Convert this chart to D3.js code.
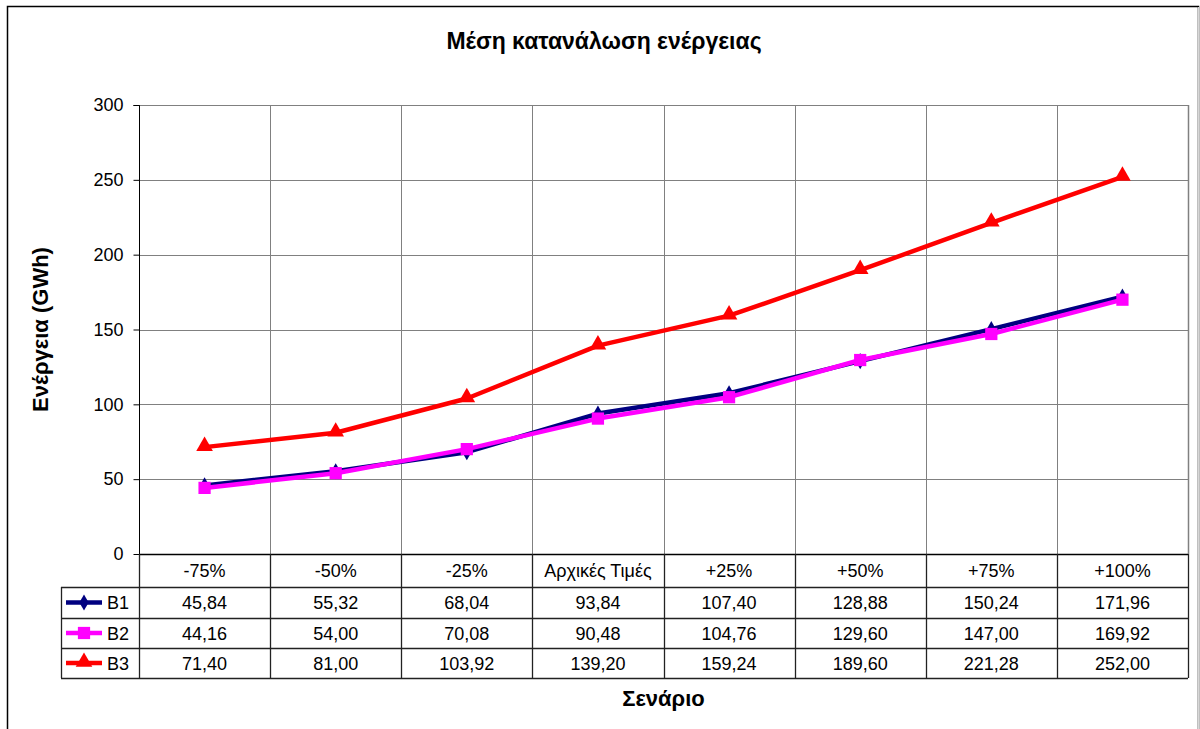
<!DOCTYPE html>
<html>
<head>
<meta charset="utf-8">
<script src="https://cdn.jsdelivr.net/npm/d3@7"></script>
<style>
  html, body { margin: 0; padding: 0; background: #fff; }
  svg { display: block; font-family: "Liberation Sans", Arial, sans-serif; }
</style>
</head>
<body>
<svg id="chart" width="1200" height="729"></svg>
<script>
// Scenario categories and the three series (GWh)
const scenarios = ["-75%", "-50%", "-25%", "Αρχικές Τιμές", "+25%", "+50%", "+75%", "+100%"];
const seriesNames = ["B1", "B2", "B3"];
const b1Values = [45.84, 55.32, 68.04, 93.84, 107.40, 128.88, 150.24, 171.96];
const b2Values = [44.16, 54.00, 70.08, 90.48, 104.76, 129.60, 147.00, 169.92];
const b3Values = [71.40, 81.00, 103.92, 139.20, 159.24, 189.60, 221.28, 252.00];
const yTicks = [0, 50, 100, 150, 200, 250, 300];

const titleText = "Μέση κατανάλωση ενέργειας";
const yTitle = "Ενέργεια (GWh)";
const xTitle = "Σενάριο";

const series = [
  { name: seriesNames[0], values: b1Values, color: "#000080", symbol: d3.symbolDiamond, size: 75 },
  { name: seriesNames[1], values: b2Values, color: "#FF00FF", symbol: d3.symbolSquare, size: 150 },
  { name: seriesNames[2], values: b3Values, color: "#FF0000", symbol: d3.symbolTriangle, size: 120 }
];

const svg = d3.select("#chart");
const W = 1200, H = 729;
const plot = { left: 139, top: 105, right: 1188, bottom: 554 };
const rowH = [33, 31, 30, 30];   // header row, then one row per series
const tableLeft = 61;

const x = d3.scaleBand().domain(scenarios).range([plot.left, plot.right]).padding(0);
const y = d3.scaleLinear().domain([0, 300]).range([plot.bottom, plot.top]);

// Outer chart frame
svg.append("rect")
  .attr("x", 7.5).attr("y", 6.5).attr("width", W - 9).attr("height", H)
  .attr("fill", "#fff").attr("stroke", "#000").attr("stroke-width", 1.5);
svg.append("line").attr("x1", 1198.5).attr("x2", 1198.5).attr("y1", 7).attr("y2", H)
  .attr("stroke", "#d8d8d8").attr("stroke-width", 1);

// Title
svg.append("text")
  .attr("x", 604).attr("y", 49)
  .attr("text-anchor", "middle")
  .attr("font-size", 23).attr("font-weight", "bold")
  .text(titleText);

// Horizontal grid
svg.append("g").selectAll("line").data(yTicks.filter(t => t > 0)).join("line")
  .attr("x1", plot.left).attr("x2", plot.right)
  .attr("y1", d => Math.round(y(d)) + 0.5).attr("y2", d => Math.round(y(d)) + 0.5)
  .attr("stroke", "#808080").attr("stroke-width", 1);

// Vertical grid at category boundaries
const bounds = scenarios.map(s => x(s)).concat([plot.right]);
svg.append("g").selectAll("line").data(bounds.slice(1, -1)).join("line")
  .attr("x1", d => Math.round(d) + 0.5).attr("x2", d => Math.round(d) + 0.5)
  .attr("y1", plot.top).attr("y2", plot.bottom)
  .attr("stroke", "#808080").attr("stroke-width", 1);

// Plot area right edge
svg.append("line")
  .attr("x1", plot.right + 0.5).attr("x2", plot.right + 0.5)
  .attr("y1", plot.top).attr("y2", plot.bottom)
  .attr("stroke", "#808080").attr("stroke-width", 1.5);

// Y axis
const yAxis = d3.axisLeft(y).tickValues(yTicks).tickSize(6).tickPadding(10).tickFormat(d3.format("d"));
const yg = svg.append("g").attr("transform", `translate(${plot.left + 0.5},0)`).call(yAxis);
yg.select(".domain").attr("stroke", "#000").attr("d", `M-6,${plot.top + 0.5}H0V${plot.bottom}`);
yg.selectAll(".tick line").attr("stroke", "#000");
yg.selectAll(".tick text").attr("font-size", 18).attr("fill", "#000")
  .attr("font-family", "Liberation Sans, Arial, sans-serif");

// Y axis title
svg.append("text")
  .attr("transform", `translate(48,${(plot.top + plot.bottom) / 2}) rotate(-90)`)
  .attr("text-anchor", "middle")
  .attr("font-size", 22).attr("font-weight", "bold")
  .text(yTitle);

// Data table under the plot
const rowTops = [plot.bottom];
rowH.forEach((h, i) => rowTops.push(rowTops[i] + h));
const tableBottom = rowTops[rowTops.length - 1];
const tbl = svg.append("g");

// horizontal table lines
tbl.append("line").attr("x1", plot.left).attr("x2", plot.right)
  .attr("y1", plot.bottom + 0.5).attr("y2", plot.bottom + 0.5)
  .attr("stroke", "#000").attr("stroke-width", 1.5);
tbl.selectAll("line.h").data(rowTops.slice(1)).join("line").attr("class", "h")
  .attr("x1", tableLeft).attr("x2", plot.right)
  .attr("y1", d => d + 0.5).attr("y2", d => d + 0.5)
  .attr("stroke", "#222").attr("stroke-width", 1.3);
// vertical table lines
tbl.selectAll("line.v").data(bounds).join("line").attr("class", "v")
  .attr("x1", d => Math.round(d) + 0.5).attr("x2", d => Math.round(d) + 0.5)
  .attr("y1", plot.bottom).attr("y2", tableBottom)
  .attr("stroke", "#222").attr("stroke-width", 1.3);
tbl.append("line").attr("x1", tableLeft + 0.5).attr("x2", tableLeft + 0.5)
  .attr("y1", rowTops[1]).attr("y2", tableBottom)
  .attr("stroke", "#222").attr("stroke-width", 1.3);

// header labels
tbl.selectAll("text.hdr").data(scenarios).join("text").attr("class", "hdr")
  .attr("x", d => x(d) + x.bandwidth() / 2)
  .attr("y", (rowTops[0] + rowTops[1]) / 2 + 6.5)
  .attr("text-anchor", "middle").attr("font-size", 18)
  .text(d => d);

const fmt = v => v.toFixed(2).replace(".", ",");
series.forEach((s, i) => {
  const cy = (rowTops[i + 1] + rowTops[i + 2]) / 2;
  tbl.selectAll(`text.v${i}`).data(s.values).join("text").attr("class", `v${i}`)
    .attr("x", (d, j) => x(scenarios[j]) + x.bandwidth() / 2)
    .attr("y", cy + 6.5)
    .attr("text-anchor", "middle").attr("font-size", 18)
    .text(fmt);
  // legend key
  tbl.append("line").attr("x1", 66).attr("x2", 102).attr("y1", cy).attr("y2", cy)
    .attr("stroke", s.color).attr("stroke-width", 4.5);
  tbl.append("path").attr("d", d3.symbol(s.symbol, s.size)())
    .attr("transform", `translate(84,${cy + (s.symbol === d3.symbolTriangle ? -1 : 0)})`)
    .attr("fill", s.color);
  tbl.append("text").attr("x", 107).attr("y", cy + 6.5)
    .attr("font-size", 18).text(s.name);
});

// Series lines and markers
const cx = (d, j) => x(scenarios[j]) + x.bandwidth() / 2;
const line = d3.line().x(cx).y(d => y(d));
series.forEach(s => {
  svg.append("path").datum(s.values).attr("d", line)
    .attr("fill", "none").attr("stroke", s.color).attr("stroke-width", 4.5)
    .attr("stroke-linejoin", "round");
  svg.append("g").selectAll("path").data(s.values).join("path")
    .attr("d", d3.symbol(s.symbol, s.size)())
    .attr("transform", (d, j) => `translate(${cx(d, j)},${y(d) + (s.symbol === d3.symbolTriangle ? -1 : 0)})`)
    .attr("fill", s.color);
});

// X axis title
svg.append("text")
  .attr("x", (plot.left + plot.right) / 2).attr("y", 706)
  .attr("text-anchor", "middle")
  .attr("font-size", 22).attr("font-weight", "bold")
  .text(xTitle);
</script>
</body>
</html>
